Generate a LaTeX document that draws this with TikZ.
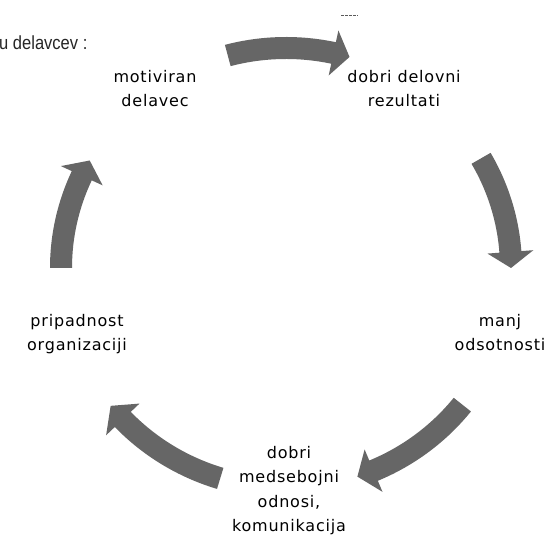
\documentclass[tikz,border=0pt]{standalone}
\usepackage{fontspec}
\setmainfont[LetterSpace=5]{DejaVu Sans}
\newfontfamily\condfont[FakeStretch=0.87]{Liberation Sans}
\usetikzlibrary{calc}
\definecolor{arrowgray}{RGB}{102,102,102}
\definecolor{dashgray}{RGB}{90,90,90}
\tikzset{
  arrowfill/.style={fill=arrowgray},
  lbl/.style={font=\fontsize{16}{24.5}\selectfont, align=center, inner sep=0pt, text=black},
  headtext/.style={font=\condfont\fontsize{19}{22}\selectfont, inner sep=0pt, text=black!85}
}
\newcommand\cycarrow[3]{%
  \fill[arrowfill] ($(C)+(#1:236pt and 231pt)$)
    arc[start angle=#1,end angle=#2,x radius=236pt,y radius=231pt]
    -- ($(C)+(#2:248pt and 243pt)$)
    -- ($(C)+(#3:225pt and 220pt)$)
    -- ($(C)+(#2:202pt and 197pt)$)
    -- ($(C)+(#2:214pt and 209pt)$)
    arc[start angle=#2,end angle=#1,x radius=214pt,y radius=209pt]
    -- cycle;}
\begin{document}
\begin{tikzpicture}[x=1pt,y=1pt]
\useasboundingbox[fill=white] (0,0) rectangle (551,537);
\coordinate (C) at (286,269);
% block arrows of the cycle
\cycarrow{105}{77.8}{73.6}
\cycarrow{29.9}{4.2}{0}
\cycarrow{-38.4}{-67.1}{-71.5}
\cycarrow{-107}{-136.5}{-141.2}
\cycarrow{180}{155.2}{150.75}
% labels (anchor = baseline of the last line)
\node[lbl, anchor=base] (n1) at (155,430) {motiviran\\delavec};
\node[lbl, anchor=base] (n2) at (404,430) {dobri delovni\\rezultati};
\node[lbl, anchor=base] (n3) at (500,186) {manj\\odsotnosti};
\node[lbl, anchor=base] (n4) at (289,5) {dobri\\medsebojni\\odnosi,\\komunikacija};
\node[lbl, anchor=base] (n5) at (77,186) {pripadnost\\organizaciji};
\node[headtext, anchor=base west] (t0) at (-1,487) {u delavcev :};
% small dash at the top
\coordinate (d1) at (341,521.5);
\coordinate (d2) at (358,521.5);
\draw[dashgray, line width=1pt, dash pattern=on 3pt off 1pt] (d1) -- (d2);
\end{tikzpicture}
\end{document}
